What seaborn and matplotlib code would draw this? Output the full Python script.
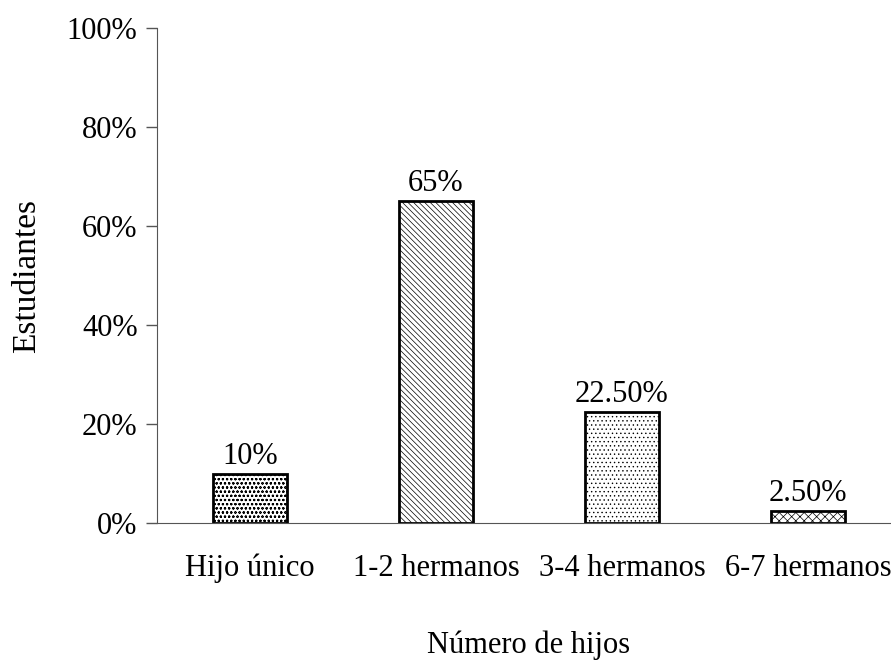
import matplotlib
matplotlib.use("Agg")

import numpy as np
import pandas as pd
import matplotlib.pyplot as plt
import seaborn as sns

categorias = ["Hijo único", "1-2 hermanos", "3-4 hermanos", "6-7 hermanos"]
valores = [10, 65, 22.5, 2.5]
etiquetas = ["10%", "65%", "22.50%", "2.50%"]
tramas = ["oooo", "\\\\\\\\\\\\", "....", "xxxx"]

df = pd.DataFrame({"categoria": categorias, "valor": valores})

sns.set_style("white")
plt.rcParams["font.family"] = ["Liberation Serif", "DejaVu Serif"]
plt.rcParams["text.color"] = "black"
plt.rcParams["axes.labelcolor"] = "black"
plt.rcParams["xtick.color"] = "black"
plt.rcParams["ytick.color"] = "black"
plt.rcParams["hatch.color"] = "#bdbdbd"
plt.rcParams["hatch.linewidth"] = 0.5

tam = 22

fig = plt.figure(figsize=(8.91, 6.65), dpi=100)
ax = fig.add_axes([0.1762, 0.2135, 0.835, 0.7444])

sns.barplot(data=df, x="categoria", y="valor", hue="categoria", width=0.4,
            palette=["white"] * 4, edgecolor="black", linewidth=2,
            legend=False, ax=ax)

for p, h in zip(ax.patches, tramas):
    p.set_hatch(h)

for i, (v, t) in enumerate(zip(valores, etiquetas)):
    ax.text(i, v + 0.6, t, ha="center", va="bottom", fontsize=tam)

ax.set_ylim(0, 100)
ax.set_xlim(-0.5, 3.5)
ax.set_yticks([0, 20, 40, 60, 80, 100])
ax.set_yticklabels(["0%", "20%", "40%", "60%", "80%", "100%"], fontsize=tam)
ax.set_xticks(range(4))
ax.set_xticklabels(categorias, fontsize=tam)
ax.set_xticks([-0.5, 0.5, 1.5, 2.5, 3.5], minor=True)
ax.tick_params(axis="x", which="major", length=0, pad=22)
ax.tick_params(axis="x", which="minor", length=8, width=1, color="#555555", direction="out")
ax.tick_params(axis="y", length=8, width=1, color="#555555", direction="out", left=True, pad=6)

for s in ["top", "right"]:
    ax.spines[s].set_visible(False)
ax.spines["left"].set_color("#555555")
ax.spines["bottom"].set_color("#555555")

ax.set_xlabel("Número de hijos", fontsize=tam, labelpad=34)
ax.set_ylabel("Estudiantes", fontsize=24, labelpad=18)

fig.savefig("out.png", dpi=100)
